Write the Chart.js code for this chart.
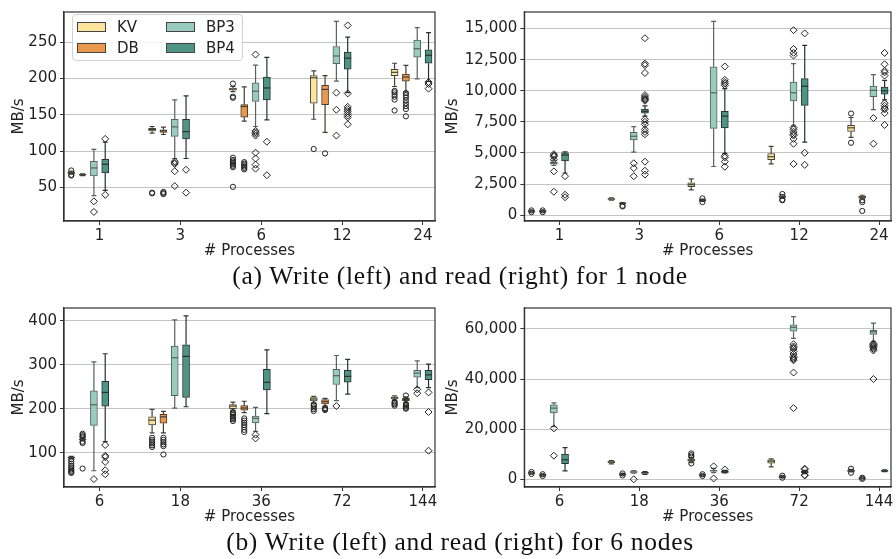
<!DOCTYPE html>
<html>
<head>
<meta charset="utf-8">
<script src="https://cdn.jsdelivr.net/npm/chart.js@4/dist/chart.umd.min.js"></script>
<style>
  body { margin: 0; background: #fff; }
  #page { position: relative; width: 896px; height: 559px; overflow: hidden; background: #fff; font-family: "DejaVu Sans"; }
  canvas { position: absolute; }
  .cap { position: absolute; left: 24px; width: 872px; text-align: center; font-family: "Liberation Serif"; font-size: 25.5px; line-height: 28px; letter-spacing: 0.7px; color: #111; }
  #legend { position: absolute; left: 72px; top: 14px; width: 165px; height: 44px; border: 1px solid #d2d2d2; border-radius: 4px; background: rgba(255,255,255,0.85);
            display: grid; grid-auto-flow: column; grid-template-rows: 21px 21px; grid-template-columns: 89px auto; padding: 1px 0 0 4px; box-sizing: content-box; }
  .item { display: flex; align-items: center; font-size: 15px; color: #222; }
  .patch { width: 27px; height: 8px; border: 1px solid #444; margin-right: 11px; }
</style>
</head>
<body>
<div id="page">
  <canvas id="w1" width="440" height="262" style="left:0;top:0"></canvas>
  <canvas id="r1" width="456" height="262" style="left:440px;top:0"></canvas>
  <canvas id="w6" width="440" height="232" style="left:0;top:296px"></canvas>
  <canvas id="r6" width="456" height="232" style="left:440px;top:296px"></canvas>
  <div id="legend"></div>
  <div class="cap" style="top:262px">(a) Write (left) and read (right) for 1 node</div>
  <div class="cap" style="top:528px">(b) Write (left) and read (right) for 6 nodes</div>
</div>
<script>
const series = ['KV', 'DB', 'BP3', 'BP4'];
const fills = ['#fde49c', '#e9984c', '#99ccbd', '#4f9585'];
const edges = ['#45443a', '#453c33', '#58625f', '#28312e'];

const procs1 = ['1', '3', '6', '12', '24'];
const procs6 = ['6', '18', '36', '72', '144'];

const w1Ticks = [50, 100, 150, 200, 250];
const r1Ticks = [0, 2500, 5000, 7500, 10000, 12500, 15000];
const w6Ticks = [100, 200, 300, 400];
const r6Ticks = [0, 20000, 40000, 60000];

// box stats per process count: [whisker low, q1, median, q3, whisker high]
// write, 1 node
const w1KV = [[68.5, 69.5, 70.5, 71.5, 72.5], [125, 128, 130, 131.5, 134], [182, 184, 185.5, 187, 189], [144, 166, 201, 204, 210.5], [189, 204, 208.5, 212.5, 221]];
const w1KVOut = [[66.5, 67.5, 73.5], [42, 43], [193, 175, 173.5, 91, 88, 86, 84, 82, 80, 78, 51], [103], [183, 181, 178, 175, 171, 156]];
const w1DB = [[66.5, 67, 67.8, 68.3, 69], [123, 126, 128, 129.5, 133], [141.5, 147, 161.5, 164, 188.5], [126, 164, 185, 190.5, 204], [181.5, 196.5, 202, 206, 218]];
const w1DBOut = [[], [44, 42.5, 41], [85, 83, 81, 79, 77, 75], [97], [180, 177, 174, 170, 166, 162, 158, 148]];
const w1BP3 = [[39, 66, 77, 86, 102.5], [90, 120.5, 133.5, 144, 170.5], [134, 168.5, 182.5, 194, 218.5], [196.5, 220.5, 231, 244, 278.5], [199.5, 229.5, 241, 253, 270]];
const w1BP3Out = [[31, 16.5], [86, 84, 82.5, 72.5, 52], [233, 128, 126, 124, 121.5, 98, 90, 81.5, 76], [180.5, 157, 121.5], []];
const w1BP4 = [[46, 70, 82, 89, 112.5], [90, 117, 127, 144, 176], [143, 170.5, 187, 202, 229], [180.5, 213, 228, 236.5, 257], [196, 221, 232, 239.5, 263]];
const w1BP4Out = [[117, 40], [74.5, 43], [113, 67], [273, 179.5, 161, 158, 155, 152, 149, 146.5, 137], [195, 192.5, 186]];

// read, 1 node
const r1KV = [[270, 290, 310, 330, 360], [1200, 1260, 1300, 1340, 1400], [2030, 2280, 2450, 2600, 2920], [4120, 4450, 4700, 4950, 5530], [6260, 6730, 7020, 7230, 7850]];
const r1KVOut = [[240, 380], [], [], [], [8170, 5820]];
const r1DB = [[270, 290, 310, 330, 360], [880, 920, 950, 975, 1000], [1100, 1150, 1200, 1250, 1300], [1350, 1420, 1480, 1550, 1650], [1300, 1380, 1450, 1520, 1600]];
const r1DBOut = [[240, 380], [700, 760], [1050, 1350], [1200, 1250, 1700], [1200, 1050, 340]];
const r1BP3 = [[4000, 4100, 4180, 4250, 4400], [5060, 6050, 6340, 6650, 7120], [3910, 6970, 9840, 11920, 15570], [7170, 9180, 9840, 10700, 12180], [8480, 9520, 10040, 10380, 11300]];
const r1BP3Out = [[4900, 4800, 4700, 4450, 3520, 1880], [4170, 3780, 3130], [], [14870, 13360, 13050, 12830, 7040, 6900, 6700, 6500, 6400, 6130, 5740, 4120], [7800, 5740]];
const r1BP4 = [[3390, 4360, 4830, 5010, 5090], [7960, 8190, 8350, 8530, 8790], [4960, 7020, 7960, 8350, 10170], [5870, 8820, 10360, 10980, 13640], [9260, 9730, 9990, 10300, 10830]];
const r1BP4Out = [[3130, 1640, 1440], [14220, 12180, 12050, 11430, 9650, 9500, 9400, 9300, 9200, 7700, 7500, 7300, 6900, 6700, 6500, 4300, 3570, 3260],
  [11950, 10880, 10700, 10570, 10430, 4770, 4640, 4300, 3890], [14610, 5010, 4040], [13040, 12130, 11610, 11480, 11220, 9000, 8800, 8600, 8500, 8200, 7250]];

// write, 6 nodes
const w6KV = [[87, 88, 89, 90, 91.5], [145, 163, 174, 181.5, 198.5], [196, 200, 206, 209.5, 215], [213, 217.5, 222, 225.5, 228], [219, 222, 225, 227, 229.5]];
const w6KVOut = [[85, 80, 75, 70, 66, 62, 59, 56, 54], [134, 129, 125, 121, 117, 113], [192, 189, 186, 182, 179, 176, 172], [210, 207, 203, 199, 195], [216, 213, 210, 207]];
const w6DB = [[127, 129, 130, 131, 133], [145, 167, 181.5, 187, 194], [191, 196.5, 201.5, 207, 217], [206, 211, 216, 220.5, 223.5], [214, 218.5, 221, 223.5, 227]];
const w6DBOut = [[143, 140, 137, 135, 125, 122, 64], [134, 129, 124, 119, 115, 96], [178, 173, 168, 163, 158, 152, 147], [201.5, 199, 197], [230, 211, 208, 205, 202, 200]];
const w6BP3 = [[59, 162, 209, 240.5, 306.5], [201.5, 229.5, 316, 342.5, 402], [148.5, 167.5, 178, 183, 203], [218.5, 255, 275, 289.5, 321], [248, 272, 281, 287, 309]];
const w6BP3Out = [[40], [], [141, 132.5], [206], [244, 235]];
const w6BP4 = [[125, 206, 237, 262.5, 325], [204.5, 225.5, 319, 345.5, 411], [189, 242.5, 260, 289.5, 334], [233, 260.5, 273.5, 287, 312], [248, 266, 277, 287, 301.5]];
const w6BP4Out = [[117.5, 93, 90, 79, 60, 51], [], [], [], [237, 192.5, 104.5]];

// read, 6 nodes
const r6KV = [[2200, 2350, 2500, 2650, 2800], [6100, 6500, 6800, 7100, 7400], [6600, 7200, 7600, 8000, 8600], [4900, 6450, 7230, 7740, 8130], [2900, 3150, 3400, 3600, 3900]];
const r6KVOut = [[2100, 2900], [], [10300, 9600, 9000, 6300], [], [4200, 2600]];
const r6DB = [[1400, 1550, 1650, 1750, 1900], [1650, 1800, 1950, 2050, 2200], [1400, 1550, 1650, 1750, 1900], [700, 850, 1000, 1100, 1250], [200, 300, 390, 450, 550]];
const r6DBOut = [[1300, 2000], [1500, 2300], [1300, 2000], [600, 1400], [150, 600]];
const r6BP3 = [[21000, 26450, 28390, 29680, 30450], [2400, 2700, 2900, 3100, 3400], [2600, 3200, 3400, 3600, 4300], [56260, 59100, 60650, 61680, 64900], [54970, 57810, 58840, 59480, 62320]];
const r6BP3Out = [[20300, 9400], [0], [5150, 300], [53900, 53000, 52500, 52000, 51000, 50000, 49000, 48500, 48000, 47500, 42580, 28390], [54200, 53800, 53400, 53000, 52500, 52000, 51400, 40000]];
const r6BP4 = [[3360, 6190, 7740, 10060, 12650], [1900, 2300, 2580, 2700, 3000], [2500, 2700, 2900, 3200, 3500], [2200, 2500, 2800, 3200, 3500], [3000, 3200, 3350, 3500, 3700]];
const r6BP4Out = [[], [], [3900], [4200, 3900, 1700, 1500], []];

// hue slots: 6 per group, only the first four are used
const slotStep = 0.14;
const slotOffsets = series.map((s, k) => (k - 2.5) * slotStep);

const tickFont = { family: 'DejaVu Sans', size: 15 };
const textColor = '#222';
const axisColor = '#333';

const boxPlugin = {
  id: 'boxParts',
  beforeDatasetsDraw(chart) {
    const ctx = chart.ctx;
    const y = chart.scales.y;
    chart.data.datasets.forEach((ds, di) => {
      if (!ds.stats) return;
      const meta = chart.getDatasetMeta(di);
      ctx.save();
      ctx.strokeStyle = ds.borderColor;
      ctx.lineWidth = 1.2;
      meta.data.forEach((bar, j) => {
        const s = ds.stats[j];
        const x = bar.x;
        const lo = y.getPixelForValue(s[0]);
        const hi = y.getPixelForValue(s[4]);
        ctx.beginPath();
        ctx.moveTo(x, lo); ctx.lineTo(x, y.getPixelForValue(s[1]));
        ctx.moveTo(x, y.getPixelForValue(s[3])); ctx.lineTo(x, hi);
        ctx.moveTo(x - 2.5, lo); ctx.lineTo(x + 2.5, lo);
        ctx.moveTo(x - 2.5, hi); ctx.lineTo(x + 2.5, hi);
        ctx.stroke();
      });
      ctx.restore();
    });
  },
  afterDatasetsDraw(chart) {
    const ctx = chart.ctx;
    const y = chart.scales.y;
    chart.data.datasets.forEach((ds, di) => {
      if (!ds.stats) return;
      const meta = chart.getDatasetMeta(di);
      ctx.save();
      ctx.strokeStyle = ds.borderColor;
      ctx.lineWidth = 1.2;
      meta.data.forEach((bar, j) => {
        const m = y.getPixelForValue(ds.stats[j][2]);
        ctx.beginPath();
        ctx.moveTo(bar.x - bar.width / 2, m);
        ctx.lineTo(bar.x + bar.width / 2, m);
        ctx.stroke();
      });
      ctx.restore();
    });
    const a = chart.chartArea;
    ctx.save();
    ctx.strokeStyle = axisColor;
    ctx.lineWidth = 1.2;
    ctx.strokeRect(a.left, a.top, a.right - a.left, a.bottom - a.top);
    ctx.restore();
  }
};

function makePanel(id, labels, yTicks, yMin, yMax, stats, outs, yWidth, titlePad, pad) {
  const datasets = [];
  series.forEach((name, k) => {
    datasets.push({
      type: 'bar',
      label: name,
      data: stats[k].map((s, i) => ({ x: i + slotOffsets[k], y: [s[1], s[3]] })),
      stats: stats[k],
      backgroundColor: fills[k],
      borderColor: edges[k],
      borderWidth: 1,
      borderSkipped: false,
      barThickness: 7,
      grouped: false,
      order: 2
    });
  });
  series.forEach((name, k) => {
    const pts = [];
    outs[k].forEach((list, i) => list.forEach(v => pts.push({ x: i + slotOffsets[k], y: v })));
    datasets.push({
      type: 'scatter',
      label: name + ' outliers',
      data: pts,
      pointStyle: k < 2 ? 'circle' : 'rectRot',
      pointRadius: k < 2 ? 2.6 : 3.5,
      borderColor: '#222',
      borderWidth: 1,
      backgroundColor: 'rgba(0,0,0,0)',
      order: 1
    });
  });

  new Chart(document.getElementById(id), {
    type: 'bar',
    data: { datasets: datasets },
    options: {
      responsive: false,
      animation: false,
      events: [],
      layout: { padding: pad },
      plugins: { legend: { display: false }, tooltip: { enabled: false } },
      scales: {
        x: {
          type: 'linear',
          min: -0.44,
          max: 4.15,
          offset: false,
          afterBuildTicks: ax => { ax.ticks = labels.map((l, i) => ({ value: i })); },
          afterFit: ax => { ax.height = 41; },
          ticks: { callback: v => labels[v], font: tickFont, color: textColor, padding: 2, maxRotation: 0, autoSkip: false },
          grid: { drawOnChartArea: false, offset: false, tickLength: 4, tickColor: axisColor },
          border: { color: axisColor, width: 1.2 },
          title: { display: true, text: '# Processes', font: tickFont, color: textColor, padding: { top: 0, bottom: 2 } }
        },
        y: {
          type: 'linear',
          min: yMin,
          max: yMax,
          afterBuildTicks: ax => { ax.ticks = yTicks.map(v => ({ value: v })); },
          afterFit: ax => { ax.width = yWidth; },
          ticks: { callback: v => v.toLocaleString('en-US'), font: tickFont, color: textColor, padding: 3 },
          grid: { color: '#c4c4c4', lineWidth: 1, tickLength: 4, tickColor: axisColor },
          border: { color: axisColor, width: 1.2 },
          title: { display: true, text: 'MB/s', font: tickFont, color: textColor, padding: { top: titlePad, bottom: 0 } }
        }
      }
    },
    plugins: [boxPlugin]
  });
}

makePanel('w1', procs1, w1Ticks, 4, 291.5,
  [w1KV, w1DB, w1BP3, w1BP4], [w1KVOut, w1DBOut, w1BP3Out, w1BP4Out], 64, 10, { left: 0, right: 3, top: 6.3, bottom: 0 });
makePanel('r1', procs1, r1Ticks, -470, 16330,
  [r1KV, r1DB, r1BP3, r1BP4], [r1KVOut, r1DBOut, r1BP3Out, r1BP4Out], 84.3, 4, { left: 0, right: 1, top: 6.3, bottom: 0 });
makePanel('w6', procs6, w6Ticks, 22, 429,
  [w6KV, w6DB, w6BP3, w6BP4], [w6KVOut, w6DBOut, w6BP3Out, w6BP4Out], 64, 10, { left: 0, right: 4, top: 6.7, bottom: 0 });
makePanel('r6', procs6, r6Ticks, -3100, 68360,
  [r6KV, r6DB, r6BP3, r6BP4], [r6KVOut, r6DBOut, r6BP3Out, r6BP4Out], 84.3, 4, { left: 0, right: 1, top: 6.7, bottom: 0 });

// legend for the write panel, 1 node
const legend = document.getElementById('legend');
series.forEach((name, k) => {
  const item = document.createElement('div');
  item.className = 'item';
  const patch = document.createElement('span');
  patch.className = 'patch';
  patch.style.background = fills[k];
  item.appendChild(patch);
  item.appendChild(document.createTextNode(name));
  legend.appendChild(item);
});
</script>
</body>
</html>
